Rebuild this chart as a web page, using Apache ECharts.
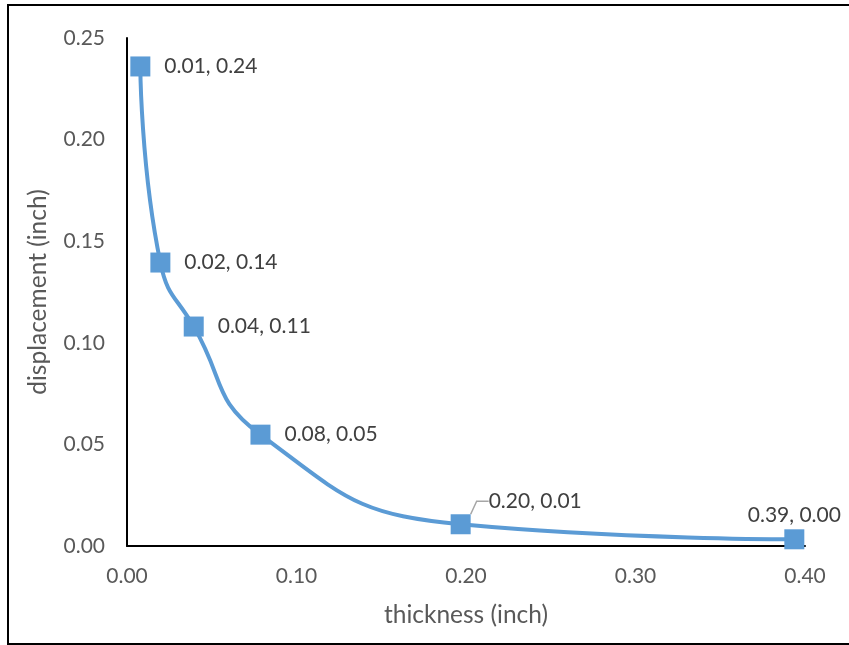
<!DOCTYPE html>
<html>
<head>
<meta charset="utf-8">
<script src="https://cdn.jsdelivr.net/npm/echarts@6/dist/echarts.min.js"></script>
<style>
  html, body { margin: 0; padding: 0; background: #fff; }
  #chart { width: 849px; height: 645px; }
</style>
</head>
<body>
<div id="chart"></div>
<script>
// Plate thickness (inch) against measured displacement (inch)
const thickness = [0.00787, 0.01969, 0.03937, 0.07874, 0.19685, 0.3937];
const displacement = [0.236, 0.1395, 0.108, 0.0548, 0.0107, 0.0033];
const xTicks = [0, 0.1, 0.2, 0.3, 0.4];
const yTicks = [0, 0.05, 0.1, 0.15, 0.2, 0.25];

const FONT = 'Lato';
const BLUE = '#5B9BD5';

const points = thickness.map((t, i) => {
  const item = { value: [t, displacement[i]] };
  if (i === 4) {
    // lifted label with a guide line back to its marker
    item.labelLine = { show: true, length2: 12, lineStyle: { color: '#a6a6a6', width: 1.5 } };
  }
  if (i === 5) {
    item.label = { position: 'top', distance: 4 };
  }
  return item;
});

const chart = echarts.init(document.getElementById('chart'));
chart.setOption({
  animation: false,
  backgroundColor: '#fff',
  grid: { left: 127, right: 44, top: 38, bottom: 99 },
  graphic: [{
    type: 'rect',
    shape: { x: 8, y: 5, width: 880, height: 639 },
    style: { fill: 'none', stroke: '#000', lineWidth: 2 },
    silent: true,
    z: -1
  }],
  xAxis: {
    type: 'value',
    min: xTicks[0],
    max: xTicks[xTicks.length - 1],
    interval: 0.1,
    name: 'thickness (inch)',
    nameLocation: 'middle',
    nameGap: 57,
    nameTextStyle: { fontFamily: FONT, fontSize: 24.5, color: '#595959' },
    axisLine: { lineStyle: { color: '#000', width: 2 } },
    axisTick: { show: false },
    splitLine: { show: false },
    axisLabel: {
      fontFamily: FONT, fontSize: 21, color: '#595959', margin: 20,
      formatter: v => v.toFixed(2)
    }
  },
  yAxis: {
    type: 'value',
    min: yTicks[0],
    max: yTicks[yTicks.length - 1],
    interval: 0.05,
    name: 'displacement (inch)',
    nameLocation: 'middle',
    nameGap: 76,
    nameTextStyle: { fontFamily: FONT, fontSize: 24.5, color: '#595959' },
    axisLine: { show: true, lineStyle: { color: '#000', width: 2 } },
    axisTick: { show: false },
    splitLine: { show: false },
    axisLabel: {
      fontFamily: FONT, fontSize: 21, color: '#595959', margin: 22,
      formatter: v => v.toFixed(2)
    }
  },
  series: [{
    type: 'line',
    data: points,
    smooth: 0.5,
    symbol: 'rect',
    symbolSize: 20,
    itemStyle: { color: BLUE },
    lineStyle: { color: BLUE, width: 4 },
    label: {
      show: true,
      position: 'right',
      distance: 14,
      fontFamily: FONT,
      fontSize: 21,
      color: '#404040',
      formatter: p => p.value[0].toFixed(2) + ', ' + p.value[1].toFixed(2)
    },
    labelLayout: p => (p.dataIndex === 4 ? { dx: 4, dy: -23 } : {}),
    labelLine: { show: false }
  }]
});
</script>
</body>
</html>
